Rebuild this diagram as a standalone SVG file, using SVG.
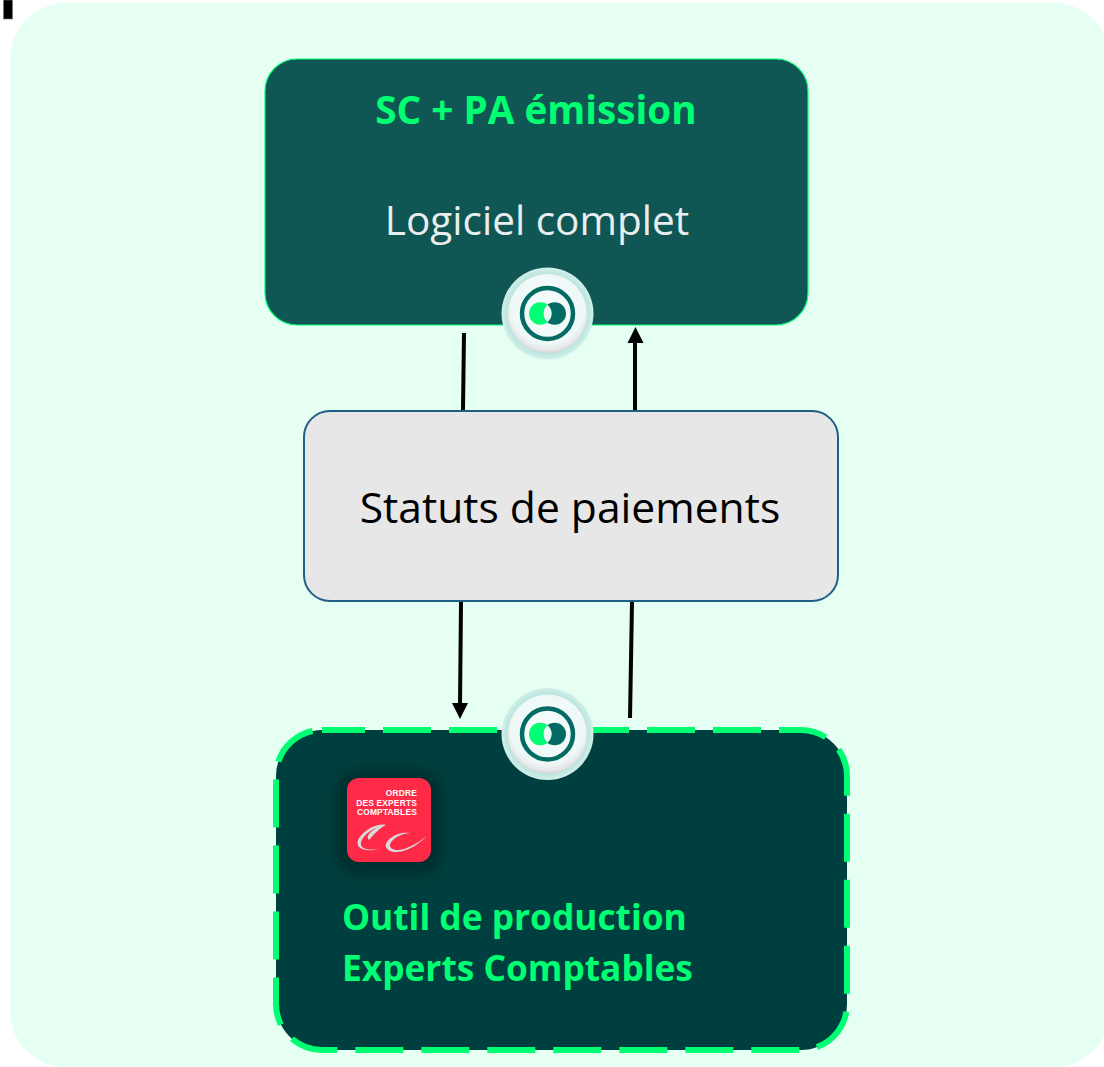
<svg xmlns="http://www.w3.org/2000/svg" width="1104" height="1067" viewBox="0 0 1104 1067">
<defs>
<style>
text{font-family:"Open Sans","Noto Sans","Liberation Sans",sans-serif}
.conn{stroke:#000;stroke-width:4;fill:none}
.head{fill:#000}
.green{fill:#00FF72;font-weight:700}
.logo{fill:#fff;font-weight:700;font-size:8.4px;letter-spacing:.2px;font-family:"Liberation Sans",sans-serif;text-anchor:end}
.swoosh{fill:#d9d9d9}
</style>
<radialGradient id="disc" cx="50%" cy="42%" r="58%"><stop offset="0" stop-color="#f4fdfb"/><stop offset=".8" stop-color="#eef8f6"/><stop offset=".93" stop-color="#e8e6e8"/><stop offset="1" stop-color="#d9d5d8"/></radialGradient>
<radialGradient id="halo"><stop offset=".82" stop-color="#b5e2da"/><stop offset=".94" stop-color="#c6ebe4"/><stop offset="1" stop-color="#d4f1ea"/></radialGradient>
<filter id="shadow" x="-30%" y="-30%" width="160%" height="160%"><feGaussianBlur stdDeviation="7"/></filter>
<g id="badge">
<circle r="46" fill="url(#halo)"/>
<circle r="39.500" fill="url(#disc)"/>
<circle r="25.500" fill="none" stroke="#036A64" stroke-width="4.500"/>
<circle cx="-7.150" r="11.350" fill="#00FF72"/>
<circle cx="7.150" r="11.350" fill="#036A64"/>
<path d="M0 -8.800A11.350 11.350 0 0 1 0 8.800A11.350 11.350 0 0 1 0 -8.800Z" fill="#eafaf6"/>
</g>
</defs>
<rect id="corner-mark" x="3.500" y="0" width="9" height="19" fill="#000" stroke="#777" stroke-width="0.600"/>
<rect id="background" x="10" y="3" width="1100" height="1064" rx="56" fill="#E5FFF2"/>
<g id="connectors">
<line class="conn" x1="464" y1="333" x2="463" y2="410"/>
<line class="conn" x1="635" y1="410" x2="635" y2="342"/>
<polygon class="head" points="635.500,327 643.500,343 627.500,343"/>
<line class="conn" x1="461" y1="602" x2="460" y2="706"/>
<polygon class="head" points="460,719 452,703 468,703"/>
<line class="conn" x1="632" y1="602" x2="630" y2="718"/>
</g>
<g id="node-sc-pa">
<rect x="265" y="59" width="543" height="266" rx="32" fill="#105654" stroke="#00FF72" stroke-width="1.200"/>
<text class="green" x="536" y="124" font-size="38.700" text-anchor="middle">SC + PA émission</text>
<text x="537" y="235" font-size="40.500" text-anchor="middle" fill="#E8EEEE">Logiciel complet</text>
<use href="#badge" x="547.500" y="313.500"/>
</g>
<g id="node-statuts">
<rect x="304" y="411" width="534" height="190" rx="26" fill="#E7E7E7" stroke="#1F5F85" stroke-width="2"/>
<text x="570" y="523" font-size="42.600" text-anchor="middle" fill="#000">Statuts de paiements</text>
</g>
<g id="node-outil">
<rect x="276" y="730" width="571" height="320" rx="46" fill="#003F3F"/>
<rect x="276" y="730" width="571" height="320" rx="46" fill="none" stroke="#00FF72" stroke-width="6" stroke-dasharray="48 18" stroke-dashoffset="5"/>
<rect x="335" y="770" width="108" height="106" rx="24" fill="#000" opacity=".25" filter="url(#shadow)"/>
<rect x="347" y="778" width="84" height="84" rx="12" fill="#FF2A47"/>
<text class="logo" x="417" y="796">ORDRE</text>
<text class="logo" x="417" y="805.500">DES EXPERTS</text>
<text class="logo" x="417" y="815">COMPTABLES</text>
<path class="swoosh" d="M369 840C375 833 381 827 386 825C379 823 366 828 359 838C354 847 362 853 380 849C370 850 363 850 361 845C360 840 366 832 378 827C371 831 365 836 369 840Z"/>
<path class="swoosh" d="M410 833C398 831 384 840 386 847C389 855 408 855 427 836C410 849 397 853 391 848C387 843 397 834 410 833Z"/>
<text class="green" x="342" y="930" font-size="35.300">Outil de production</text>
<text class="green" x="342" y="981" font-size="35.300">Experts Comptables</text>
<use href="#badge" x="547.500" y="734"/>
</g>
</svg>
